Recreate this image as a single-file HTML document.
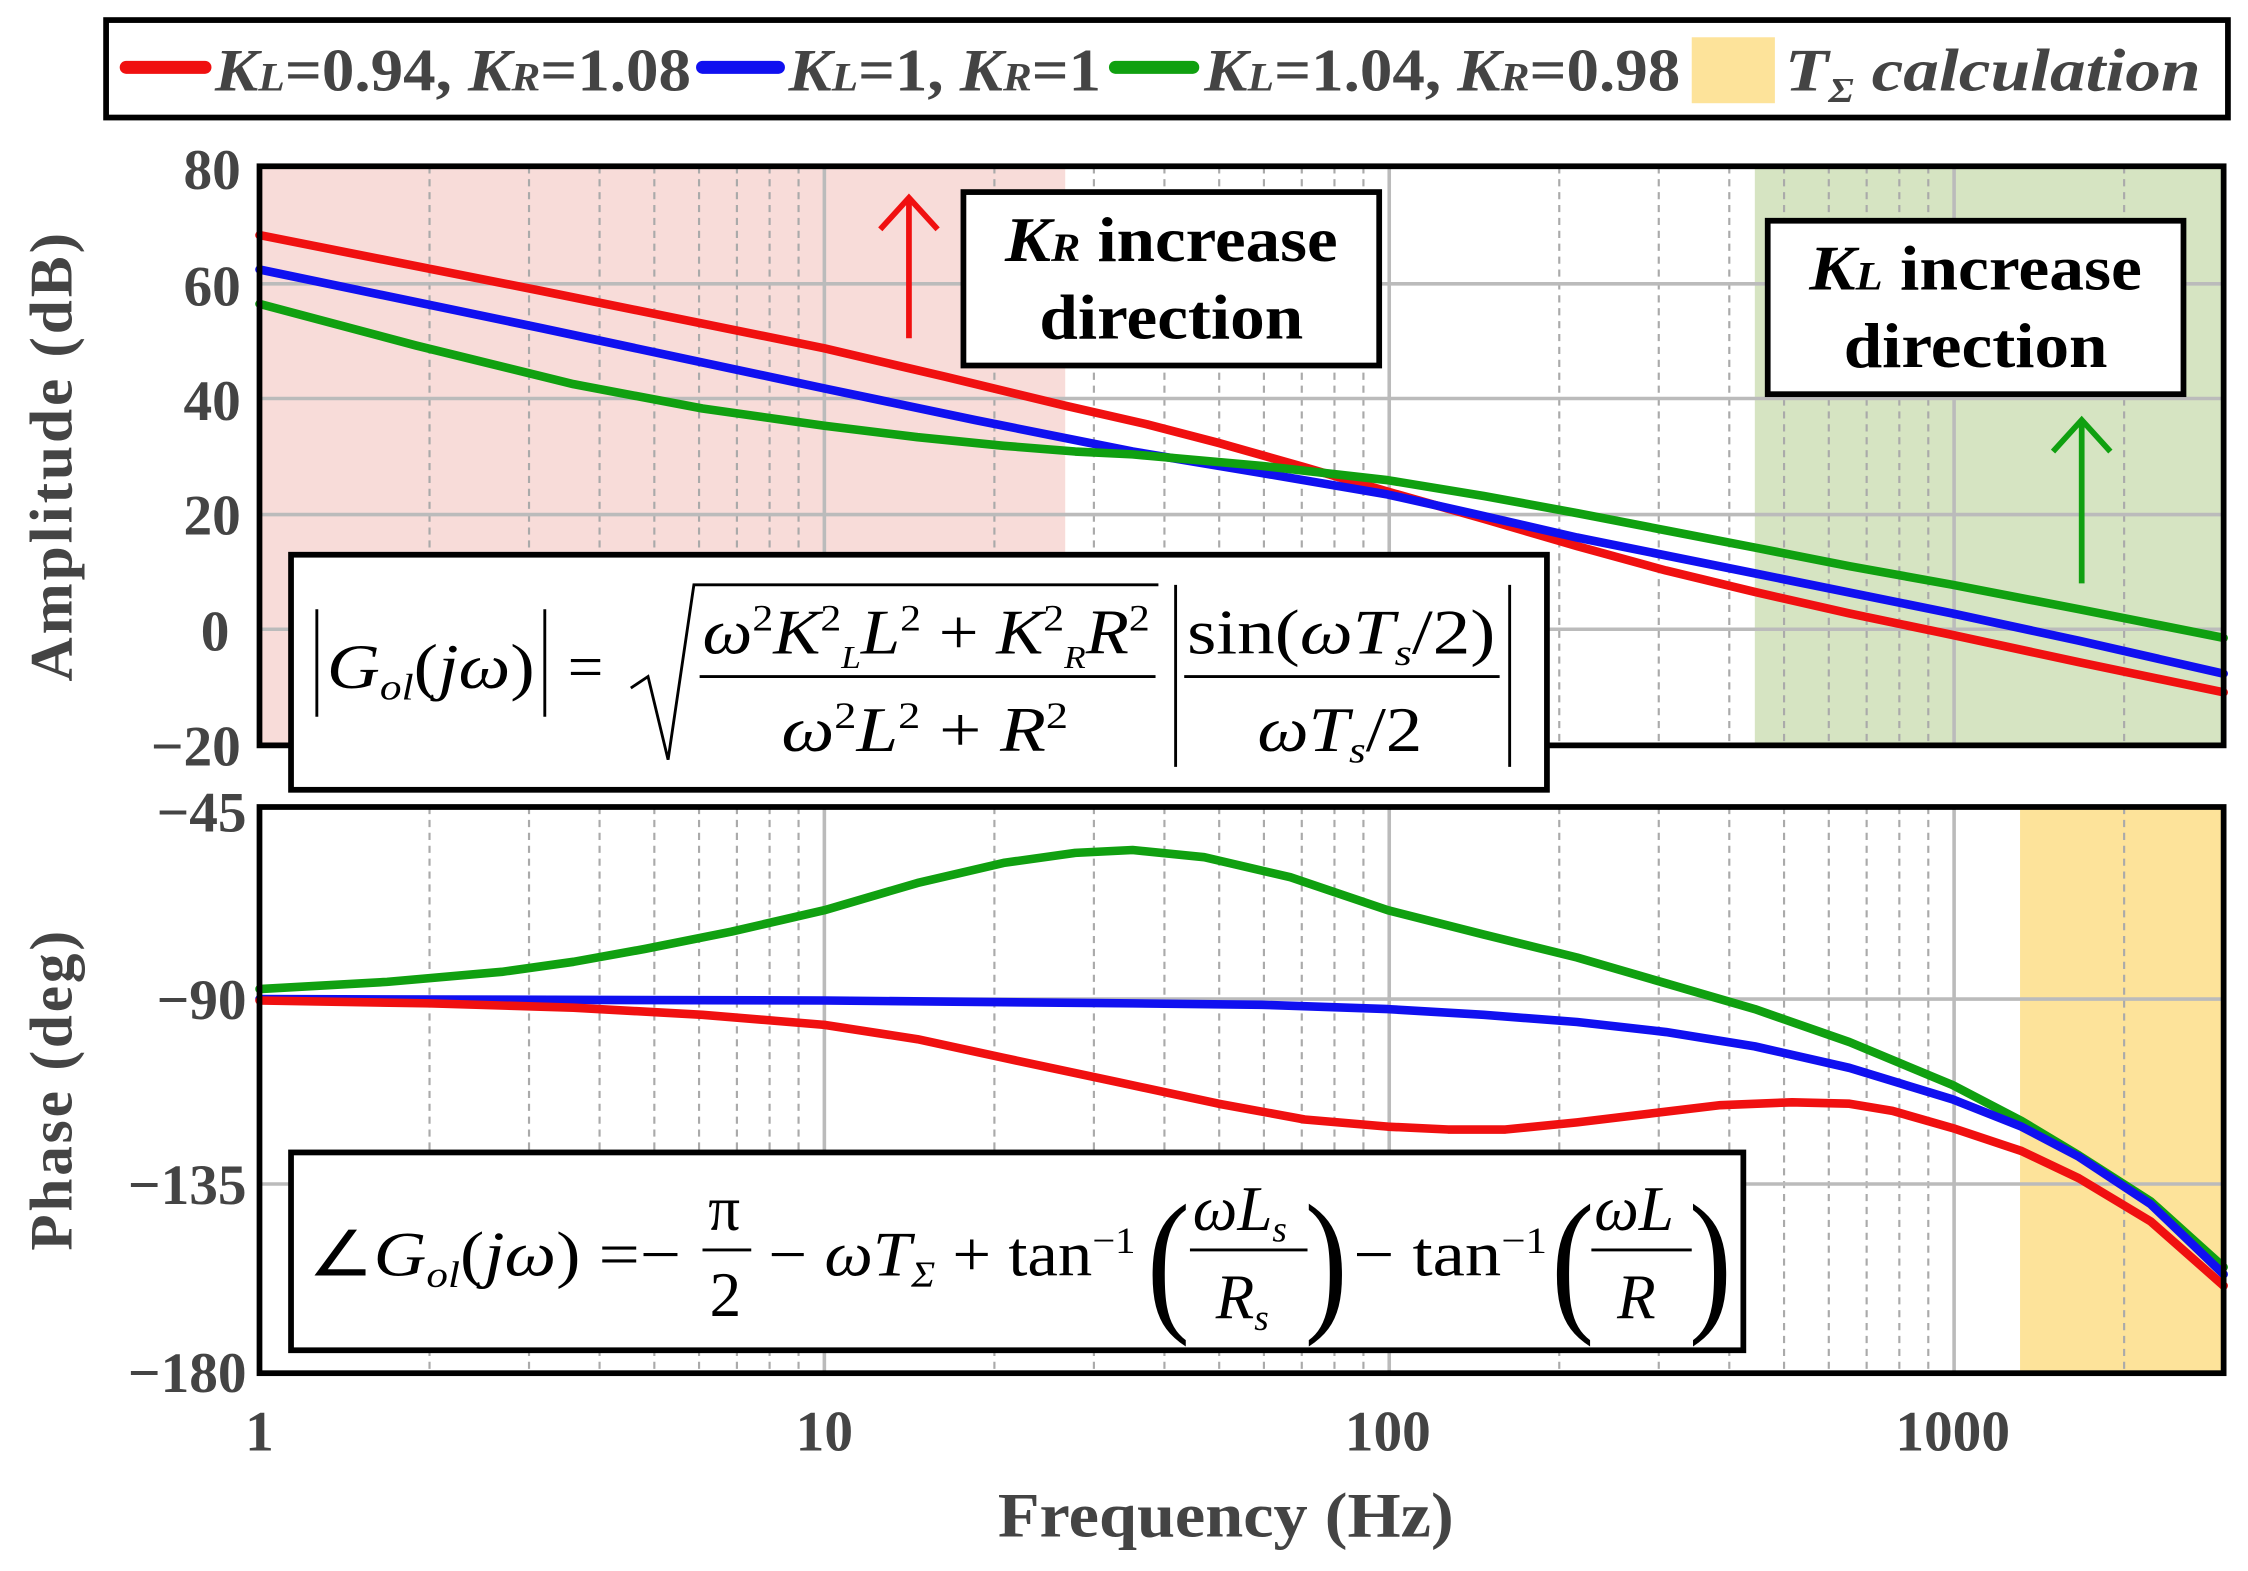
<!DOCTYPE html>
<html><head><meta charset="utf-8"><style>html,body{margin:0;padding:0;background:#fff}svg{display:block}</style></head><body>
<svg width="2248" height="1571" viewBox="0 0 1568 1096" preserveAspectRatio="none" xmlns="http://www.w3.org/2000/svg" font-family="Liberation Serif, serif">
<rect x="0" y="0" width="1568" height="1096" fill="#fff"/>
<rect x="181" y="116" width="562" height="404" fill="#f8dcd9"/>
<rect x="1224" y="116" width="327" height="404" fill="#d6e4c2"/>
<rect x="1409" y="563" width="142" height="395" fill="#fde39a"/>
<path d="M299.6 116V520M369 116V520M418.2 116V520M456.4 116V520M487.6 116V520M514 116V520M536.8 116V520M557 116V520M693.6 116V520M763 116V520M812.2 116V520M850.4 116V520M881.6 116V520M908 116V520M930.8 116V520M951 116V520M1087.6 116V520M1157 116V520M1206.2 116V520M1244.4 116V520M1275.6 116V520M1302 116V520M1324.8 116V520M1345 116V520M1481.6 116V520
M299.6 563V958M369 563V958M418.2 563V958M456.4 563V958M487.6 563V958M514 563V958M536.8 563V958M557 563V958M693.6 563V958M763 563V958M812.2 563V958M850.4 563V958M881.6 563V958M908 563V958M930.8 563V958M951 563V958M1087.6 563V958M1157 563V958M1206.2 563V958M1244.4 563V958M1275.6 563V958M1302 563V958M1324.8 563V958M1345 563V958M1481.6 563V958" stroke="#aaa" stroke-width="1.5" stroke-dasharray="5,4" fill="none"/>
<path d="M575 116V520M969 116V520M1363 116V520M575 563V958M969 563V958M1363 563V958M181 198H1551M181 278H1551M181 359H1551M181 439H1551M181 697H1551M181 826H1551" stroke="#bbb" stroke-width="2.5" fill="none"/>
<g fill="none" stroke-width="6" stroke-linejoin="round" stroke-linecap="round">
<polyline stroke="#f01010" points="181,164 378,203 575,243 660,263 743,283 800,296 850,309 910,326 968,343 1035,362 1100,381 1162,398 1224,413 1290,428 1362,443 1450,462 1551,483"/>
<polyline stroke="#1010f0" points="181,188 378,229 575,271 680,293 790,315 880,330 968,345 1035,360 1100,375 1224,400 1362,428 1450,447 1551,470"/>
<polyline stroke="#10a010" points="181,212 290,241 400,268 490,285 575,297 640,305 700,311 750,315 790,317 880,325 968,335 1035,346 1100,358 1162,370 1224,382 1290,395 1362,408 1450,425 1551,445"/>
<polyline stroke="#10a010" points="181,690 270,685 350,678 400,671 450,662 510,650 575,635 640,616 700,602 750,595 790,593 840,598 900,612 968,635 1035,652 1100,668 1162,686 1224,704 1290,727 1362,757 1410,782 1450,806 1500,838 1551,884"/>
<polyline stroke="#1010f0" points="181,697 575,698 790,700 880,701 968,704 1035,708 1100,713 1162,720 1224,730 1290,745 1362,767 1410,786 1450,807 1500,840 1551,889"/>
<polyline stroke="#f01010" points="181,698 300,700 400,703 490,708 575,715 640,725 700,738 780,755 850,770 910,781 968,786 1010,788 1050,788 1100,783 1150,777 1200,771 1250,769 1290,770 1320,775 1362,787 1410,803 1450,822 1500,852 1551,897"/>
</g>
<rect x="181" y="116" width="1370" height="404" fill="none" stroke="#000" stroke-width="4"/>
<rect x="181" y="563" width="1370" height="395" fill="none" stroke="#000" stroke-width="4"/>
<rect x="74" y="14" width="1480" height="68" fill="#fff" stroke="#000" stroke-width="4"/>
<g stroke-width="9" stroke-linecap="round"><line x1="88" y1="47" x2="143" y2="47" stroke="#f01010"/><line x1="490" y1="47" x2="543" y2="47" stroke="#1010f0"/><line x1="778" y1="47" x2="832" y2="47" stroke="#10a010"/></g>
<rect x="1180" y="26" width="58" height="46" fill="#fde39a"/>
<g font-size="42" fill="#444" font-weight="bold">
<text x="150" y="63" textLength="332" lengthAdjust="spacingAndGlyphs"><tspan font-style="italic">K</tspan><tspan font-size="28" font-style="italic">L</tspan>=0.94, <tspan font-style="italic">K</tspan><tspan font-size="28" font-style="italic">R</tspan>=1.08</text>
<text x="550" y="63" textLength="218" lengthAdjust="spacingAndGlyphs"><tspan font-style="italic">K</tspan><tspan font-size="28" font-style="italic">L</tspan>=1, <tspan font-style="italic">K</tspan><tspan font-size="28" font-style="italic">R</tspan>=1</text>
<text x="840" y="63" textLength="332" lengthAdjust="spacingAndGlyphs"><tspan font-style="italic">K</tspan><tspan font-size="28" font-style="italic">L</tspan>=1.04, <tspan font-style="italic">K</tspan><tspan font-size="28" font-style="italic">R</tspan>=0.98</text>
<text x="1245" y="63" font-style="italic" textLength="290" lengthAdjust="spacingAndGlyphs">T<tspan font-size="24" dy="8">Σ</tspan><tspan dy="-8"> calculation</tspan></text>
</g>
<g font-size="40" font-weight="bold" fill="#444" text-anchor="end">
<text x="168" y="132">80</text><text x="168" y="213">60</text><text x="168" y="293">40</text><text x="168" y="373">20</text><text x="160" y="454">0</text><text x="168" y="534">−20</text>
<text x="172" y="580">−45</text><text x="172" y="711">−90</text><text x="172" y="840">−135</text><text x="172" y="971">−180</text>
</g>
<g font-size="40" font-weight="bold" fill="#444" text-anchor="middle">
<text x="181" y="1012">1</text><text x="575" y="1012">10</text><text x="968" y="1012">100</text><text x="1362" y="1012">1000</text>
<text x="855" y="1072" font-size="44" textLength="318" lengthAdjust="spacingAndGlyphs">Frequency (Hz)</text>
<text transform="translate(50,318) rotate(-90)" font-size="42" letter-spacing="2" textLength="315" lengthAdjust="spacingAndGlyphs">Amplitude (dB)</text>
<text transform="translate(50,760) rotate(-90)" font-size="42" letter-spacing="2" textLength="225" lengthAdjust="spacingAndGlyphs">Phase (deg)</text>
</g>
<rect x="672" y="134" width="290" height="121" fill="#fff" stroke="#000" stroke-width="4"/>
<text x="817" y="182" font-size="44" font-weight="bold" text-anchor="middle" textLength="232" lengthAdjust="spacingAndGlyphs"><tspan font-style="italic">K</tspan><tspan font-size="28" font-style="italic">R</tspan> increase</text>
<text x="817" y="236" font-size="44" font-weight="bold" text-anchor="middle" textLength="184" lengthAdjust="spacingAndGlyphs">direction</text>
<rect x="1233" y="154" width="290" height="121" fill="#fff" stroke="#000" stroke-width="4"/>
<text x="1378" y="202" font-size="44" font-weight="bold" text-anchor="middle" textLength="232" lengthAdjust="spacingAndGlyphs"><tspan font-style="italic">K</tspan><tspan font-size="28" font-style="italic">L</tspan> increase</text>
<text x="1378" y="256" font-size="44" font-weight="bold" text-anchor="middle" textLength="184" lengthAdjust="spacingAndGlyphs">direction</text>
<g stroke-width="4" fill="none"><path d="M634 236V140M614 160L634 138L654 160" stroke="#f01010"/><path d="M1452 407V295M1432 315L1452 293L1472 315" stroke="#10a010"/></g>
<rect x="203" y="387" width="876" height="164" fill="#fff" stroke="#000" stroke-width="4"/>
<g font-size="44" fill="#000">
<path d="M221 425V500M380 425V500M820 408V535M1053 408V535" stroke="#000" stroke-width="2"/>
<text x="228" y="480" font-style="italic" textLength="145" lengthAdjust="spacingAndGlyphs">G<tspan font-size="26" dy="8">ol</tspan><tspan dy="-8" font-style="normal">(</tspan>jω<tspan font-style="normal">)</tspan></text>
<text x="396" y="480">=</text>
<path d="M440 480L452 472L466 530L484 408H808" stroke="#000" stroke-width="2" fill="none"/>
<text x="490" y="456" font-style="italic" textLength="312" lengthAdjust="spacingAndGlyphs">ω<tspan font-size="26" dy="-16" font-style="normal">2</tspan><tspan dy="16">K</tspan><tspan font-size="26" dy="-16" font-style="normal">2</tspan><tspan font-size="22" dy="26">L</tspan><tspan dy="-10">L</tspan><tspan font-size="26" dy="-16" font-style="normal">2</tspan><tspan dy="16" font-style="normal"> + </tspan>K<tspan font-size="26" dy="-16" font-style="normal">2</tspan><tspan font-size="22" dy="26">R</tspan><tspan dy="-10">R</tspan><tspan font-size="26" dy="-16" font-style="normal">2</tspan></text>
<line x1="488" y1="472" x2="806" y2="472" stroke="#000" stroke-width="2"/>
<text x="545" y="524" font-style="italic" textLength="200" lengthAdjust="spacingAndGlyphs">ω<tspan font-size="26" dy="-16" font-style="normal">2</tspan><tspan dy="16">L</tspan><tspan font-size="26" dy="-16" font-style="normal">2</tspan><tspan dy="16" font-style="normal"> + </tspan>R<tspan font-size="26" dy="-16" font-style="normal">2</tspan></text>
<text x="828" y="456" textLength="215" lengthAdjust="spacingAndGlyphs">sin(<tspan font-style="italic">ωT</tspan><tspan font-size="26" font-style="italic" dy="8">s</tspan><tspan dy="-8">/2)</tspan></text>
<line x1="826" y1="472" x2="1046" y2="472" stroke="#000" stroke-width="2"/>
<text x="877" y="524" font-style="italic" textLength="115" lengthAdjust="spacingAndGlyphs">ωT<tspan font-size="26" dy="8">s</tspan><tspan dy="-8" font-style="normal">/2</tspan></text>
</g>
<rect x="203" y="804" width="1013" height="138" fill="#fff" stroke="#000" stroke-width="4"/>
<g font-size="44" fill="#000">
<text x="215" y="890" textLength="260" lengthAdjust="spacingAndGlyphs">∠<tspan font-style="italic">G</tspan><tspan font-size="26" font-style="italic" dy="8">ol</tspan><tspan dy="-8">(</tspan><tspan font-style="italic">jω</tspan>) =−</text>
<text x="494" y="858">π</text><line x1="490" y1="872" x2="524" y2="872" stroke="#000" stroke-width="2"/><text x="495" y="918">2</text>
<text x="536" y="890" textLength="256" lengthAdjust="spacingAndGlyphs">− <tspan font-style="italic">ωT</tspan><tspan font-size="26" font-style="italic" dy="8">Σ</tspan><tspan dy="-8"> + tan</tspan><tspan font-size="26" dy="-16">−1</tspan></text>
<text x="800" y="916" font-size="110" textLength="30" lengthAdjust="spacingAndGlyphs">(</text>
<text x="832" y="858" font-style="italic">ωL<tspan font-size="26" dy="8">s</tspan></text><line x1="830" y1="872" x2="912" y2="872" stroke="#000" stroke-width="2"/><text x="848" y="920" font-style="italic">R<tspan font-size="26" dy="8">s</tspan></text>
<text x="910" y="916" font-size="110" textLength="30" lengthAdjust="spacingAndGlyphs">)</text>
<text x="944" y="890" textLength="135" lengthAdjust="spacingAndGlyphs">− tan<tspan font-size="26" dy="-16">−1</tspan></text>
<text x="1082" y="916" font-size="110" textLength="30" lengthAdjust="spacingAndGlyphs">(</text>
<text x="1112" y="858" font-style="italic">ωL</text><line x1="1110" y1="872" x2="1180" y2="872" stroke="#000" stroke-width="2"/><text x="1128" y="920" font-style="italic">R</text>
<text x="1178" y="916" font-size="110" textLength="30" lengthAdjust="spacingAndGlyphs">)</text>
</g>
</svg>
</body></html>
